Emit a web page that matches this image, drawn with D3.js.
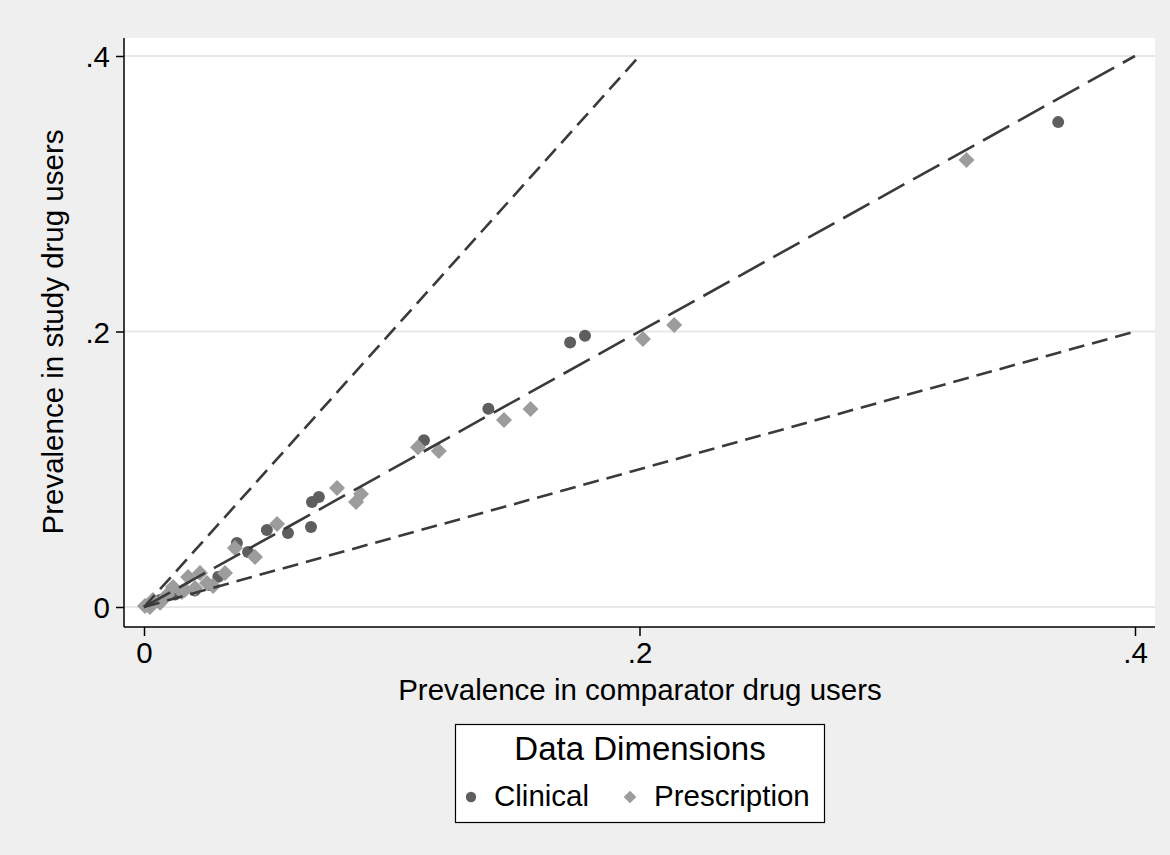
<!DOCTYPE html>
<html><head><meta charset="utf-8">
<script src="https://cdn.jsdelivr.net/npm/d3@7"></script>
<style>body{margin:0;background:#efefef;}svg{display:block;}</style>
</head><body>
<script>
const xTicks = [0, 0.2, 0.4];
const yTicks = [0, 0.2, 0.4];
const tickLabels = ["0", ".2", ".4"];
const clinicalX = [0.369,0.172,0.178,0.139,0.113,0.0706,0.0678,0.0674,0.0581,0.0496,0.0375,0.042,0.030,0.0025,0.0065,0.0125,0.0205,0.0265];
const clinicalY = [0.352,0.192,0.197,0.144,0.121,0.0799,0.0762,0.0581,0.0537,0.0559,0.0465,0.040,0.022,0.0015,0.005,0.009,0.012,0.016];
const prescX = [0.332,0.214,0.2014,0.156,0.1453,0.119,0.1106,0.0779,0.0876,0.0856,0.0537,0.0367,0.0448,0.0327,0.0279,0.0226,0.0178,0.0165,0.0117,0.0093,0.0036,0.0004,0.0024,0.0065,0.0153,0.0206,0.0254];
const prescY = [0.3245,0.2047,0.1946,0.1437,0.1357,0.1132,0.116,0.0864,0.082,0.0762,0.0603,0.0428,0.0363,0.0247,0.0152,0.0247,0.0218,0.0123,0.0145,0.0087,0.0051,0.0007,0.0,0.003,0.0109,0.0138,0.0174];
// reference lines: slope, x end
const refSlopes = [2, 1, 0.5];
const refXEnd = [0.2, 0.4, 0.4];
const refDash = ["16,8", "30,10", "16,8"];

const W = 1170, H = 855;
const svg = d3.select("body").append("svg").attr("width", W).attr("height", H);
svg.append("rect").attr("width", W).attr("height", H).attr("fill", "#efefef");

const x = d3.scaleLinear().domain([0, 0.4]).range([144, 1135]);
const y = d3.scaleLinear().domain([0, 0.4]).range([607, 56]);
const font = "'Liberation Sans', Arial, Helvetica, sans-serif";
const fs = 29.5;

// plot region
svg.append("rect").attr("x", 124).attr("y", 38).attr("width", 1155 - 124).attr("height", 627 - 38).attr("fill", "#fff");

// gridlines
svg.append("g").selectAll("line").data(yTicks).join("line")
  .attr("x1", 124).attr("x2", 1155).attr("y1", d => y(d)).attr("y2", d => y(d))
  .attr("stroke", "#e8e8e8").attr("stroke-width", 2);

// axes
const yAxis = d3.axisLeft(y).tickValues(yTicks).tickFormat((d, i) => tickLabels[i]).tickSize(8).tickPadding(6);
const gy = svg.append("g").attr("transform", "translate(124,0)").call(yAxis);
gy.select(".domain").attr("d", "M0,38V627");
const xAxis = d3.axisBottom(x).tickValues(xTicks).tickFormat((d, i) => tickLabels[i]).tickSize(9).tickPadding(6);
const gx = svg.append("g").attr("transform", "translate(0,627)").call(xAxis);
gx.select(".domain").attr("d", "M124,0H1155");
[gx, gy].forEach(g => {
  g.selectAll(".domain").attr("stroke", "#000").attr("stroke-width", 1.5);
  g.selectAll(".tick line").attr("stroke", "#000").attr("stroke-width", 1.5);
  g.selectAll("text").attr("font-family", font).attr("font-size", fs).attr("fill", "#000");
});
gy.selectAll("text").attr("dy", "0.36em");
gx.selectAll("text").attr("dy", "0.72em");

// markers
const clinical = clinicalX.map((v, i) => ({x: v, y: clinicalY[i]}));
const presc = prescX.map((v, i) => ({x: v, y: prescY[i]}));
svg.append("g").selectAll("circle").data(clinical).join("circle")
  .attr("cx", d => x(d.x)).attr("cy", d => y(d.y)).attr("r", 6).attr("fill", "#5e5e5e");
const diamond = d3.symbol().type(d3.symbolSquare).size(128);
svg.append("g").selectAll("path").data(presc).join("path")
  .attr("d", diamond)
  .attr("transform", d => `translate(${x(d.x)},${y(d.y)}) rotate(45)`)
  .attr("fill", "#9c9c9c");

// reference lines
refSlopes.forEach((s, i) => {
  svg.append("line")
    .attr("x1", x(0)).attr("y1", y(0))
    .attr("x2", x(refXEnd[i])).attr("y2", y(s * refXEnd[i]))
    .attr("stroke", "#3a3a3a").attr("stroke-width", 2.6)
    .attr("stroke-dasharray", refDash[i]);
});

// axis titles
svg.append("text").attr("x", 640).attr("y", 700).attr("text-anchor", "middle")
  .attr("font-family", font).attr("font-size", fs).text("Prevalence in comparator drug users");
svg.append("text").attr("transform", "translate(63,332) rotate(-90)").attr("text-anchor", "middle")
  .attr("font-family", font).attr("font-size", fs).text("Prevalence in study drug users");

// legend
const lg = svg.append("g");
lg.append("rect").attr("x", 455.5).attr("y", 724.5).attr("width", 369).attr("height", 98)
  .attr("fill", "#fff").attr("stroke", "#000").attr("stroke-width", 1.2);
lg.append("text").attr("x", 640).attr("y", 760).attr("text-anchor", "middle")
  .attr("font-family", font).attr("font-size", 33).text("Data Dimensions");
lg.append("circle").attr("cx", 471).attr("cy", 797).attr("r", 5.2).attr("fill", "#5e5e5e");
lg.append("text").attr("x", 494).attr("y", 806).attr("font-family", font).attr("font-size", fs).text("Clinical");
lg.append("path").attr("d", d3.symbol().type(d3.symbolSquare).size(80))
  .attr("transform", "translate(630,797) rotate(45)").attr("fill", "#9c9c9c");
lg.append("text").attr("x", 654).attr("y", 806).attr("font-family", font).attr("font-size", fs).text("Prescription");
</script>
</body></html>
